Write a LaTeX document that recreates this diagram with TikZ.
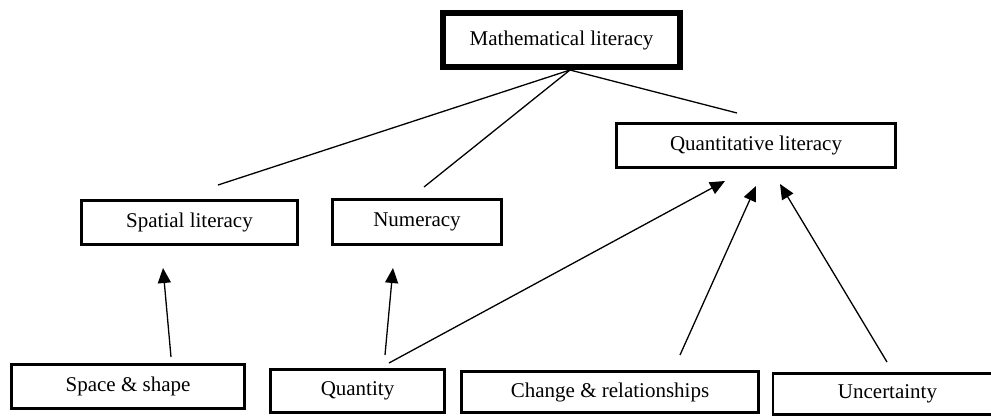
\documentclass[tikz,border=0pt]{standalone}
\usepackage{fontspec}
\setmainfont{Liberation Serif}
\usetikzlibrary{arrows.meta}
\begin{document}
\begin{tikzpicture}[x=1pt,y=-1pt,
  box/.style={draw,line width=2.6pt,inner sep=0pt,font=\fontsize{21}{25}\selectfont},
  bigbox/.style={box,line width=6pt},
  conn/.style={line width=1.3pt},
  arr/.style={conn,-{Triangle[length=15pt,width=13pt]}}]
\path[use as bounding box,clip] (0,0) rectangle (991,416);
\fill[white] (0,0) rectangle (991,416);
% boxes
\node[bigbox,minimum width=237pt,minimum height=54pt] (math) at (561.5,40) {Mathematical literacy};
\node[box,minimum width=279pt,minimum height=44pt] (qlit) at (756,145.5) {Quantitative literacy};
\node[box,minimum width=216pt,minimum height=44pt] (spat) at (189.5,222.5) {Spatial literacy};
\node[box,minimum width=169pt,minimum height=45pt] (num) at (417,222) {Numeracy};
\node[box,minimum width=233pt,minimum height=44pt] (space) at (128,386.5) {Space \& shape};
\node[box,minimum width=174pt,minimum height=43pt] (qty) at (357.5,391) {Quantity};
\node[box,minimum width=297pt,minimum height=41pt] (chg) at (610,392) {Change \& relationships};
\node[box,minimum width=229pt,minimum height=41pt] (unc) at (887.5,394) {Uncertainty};
% connector ends
\coordinate (m0) at (570,70);
\coordinate (e1) at (218,185);
\coordinate (e2) at (424,187);
\coordinate (e3) at (737,113);
\coordinate (s1) at (171,357);
\coordinate (t1) at (163,268);
\coordinate (s2) at (385,355);
\coordinate (t2) at (393,268);
\coordinate (s3) at (389,363);
\coordinate (t3) at (725,181);
\coordinate (s4) at (680,355);
\coordinate (t4) at (756,186);
\coordinate (s5) at (887,362);
\coordinate (t5) at (780,184);
% lines
\draw[conn] (m0) -- (e1);
\draw[conn] (m0) -- (e2);
\draw[conn] (m0) -- (e3);
\draw[arr] (s1) -- (t1);
\draw[arr] (s2) -- (t2);
\draw[arr] (s3) -- (t3);
\draw[arr] (s4) -- (t4);
\draw[arr] (s5) -- (t5);
\end{tikzpicture}
\end{document}
